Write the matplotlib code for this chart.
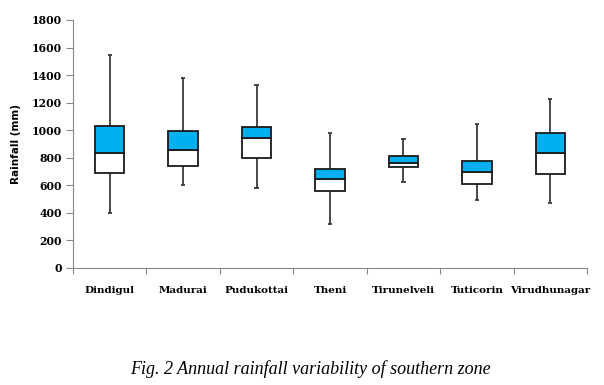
import matplotlib
matplotlib.use('Agg')
import matplotlib.pyplot as plt
import numpy as np

# district names and box statistics (mm)
districts = ['Dindigul', 'Madurai', 'Pudukottai', 'Theni',
             'Tirunelveli', 'Tuticorin', 'Virudhunagar']
mins = [402, 601, 581, 318, 625, 497, 472]
q1 = [688, 741, 795, 557, 730, 608, 683]
medians = [838, 853, 945, 645, 761, 698, 834]
q3 = [1030, 993, 1022, 722, 812, 780, 979]
maxs = [1548, 1378, 1328, 979, 935, 1042, 1226]

y_ticks = [0, 200, 400, 600, 800, 1000, 1200, 1400, 1600, 1800]

fig = plt.figure(figsize=(6.04, 3.85), dpi=100)
ax = fig.add_axes([73 / 604, 1 - 268 / 385, 514 / 604, 248 / 385])

x = np.arange(len(districts))
w = 0.4

# whiskers and caps
ax.vlines(x, mins, q1, color='#3a3a3a', lw=1.3, zorder=1)
ax.vlines(x, q3, maxs, color='#3a3a3a', lw=1.3, zorder=1)
ax.hlines(mins, x - 0.03, x + 0.03, color='#3a3a3a', lw=1.3)
ax.hlines(maxs, x - 0.03, x + 0.03, color='#3a3a3a', lw=1.3)

# lower part of box white, upper part blue
lower = np.array(medians) - np.array(q1)
upper = np.array(q3) - np.array(medians)
ax.bar(x, lower, w, bottom=q1, color='white', edgecolor='#1a1a1a', lw=1.3, zorder=2)
ax.bar(x, upper, w, bottom=medians, color='#00B0F0', edgecolor='#1a1a1a', lw=1.3, zorder=2)

ax.set_xlim(-0.5, len(districts) - 0.5)
ax.set_ylim(0, 1800)
ax.set_yticks(y_ticks)
ax.set_yticklabels([str(t) for t in y_ticks], fontfamily='DejaVu Serif',
                   fontweight='bold', fontsize=7.8)

# category labels between boundary ticks
ax.set_xticks(np.arange(len(districts) + 1) - 0.5)
ax.set_xticklabels([])
ax.set_xticks(x, minor=True)
ax.set_xticklabels(districts, minor=True, fontfamily='DejaVu Serif',
                   fontweight='bold', fontsize=7.5)
ax.tick_params(axis='x', which='minor', length=0, pad=13)
ax.tick_params(axis='x', which='major', length=4, color='#888888')
ax.tick_params(axis='y', length=5, color='#888888', pad=3)

for s in ['top', 'right']:
    ax.spines[s].set_visible(False)
ax.spines['left'].set_color('#888888')
ax.spines['bottom'].set_color('#888888')

ax.set_ylabel('Rainfall (mm)', fontfamily='DejaVu Sans', fontweight='bold',
              fontsize=7.5, labelpad=8)

fig.text(310 / 604, 1 - 369 / 385, 'Fig. 2 Annual rainfall variability of southern zone',
         fontfamily='Liberation Serif', fontstyle='italic', fontsize=13,
         ha='center', va='center')

fig.savefig('out.png', dpi=100)
